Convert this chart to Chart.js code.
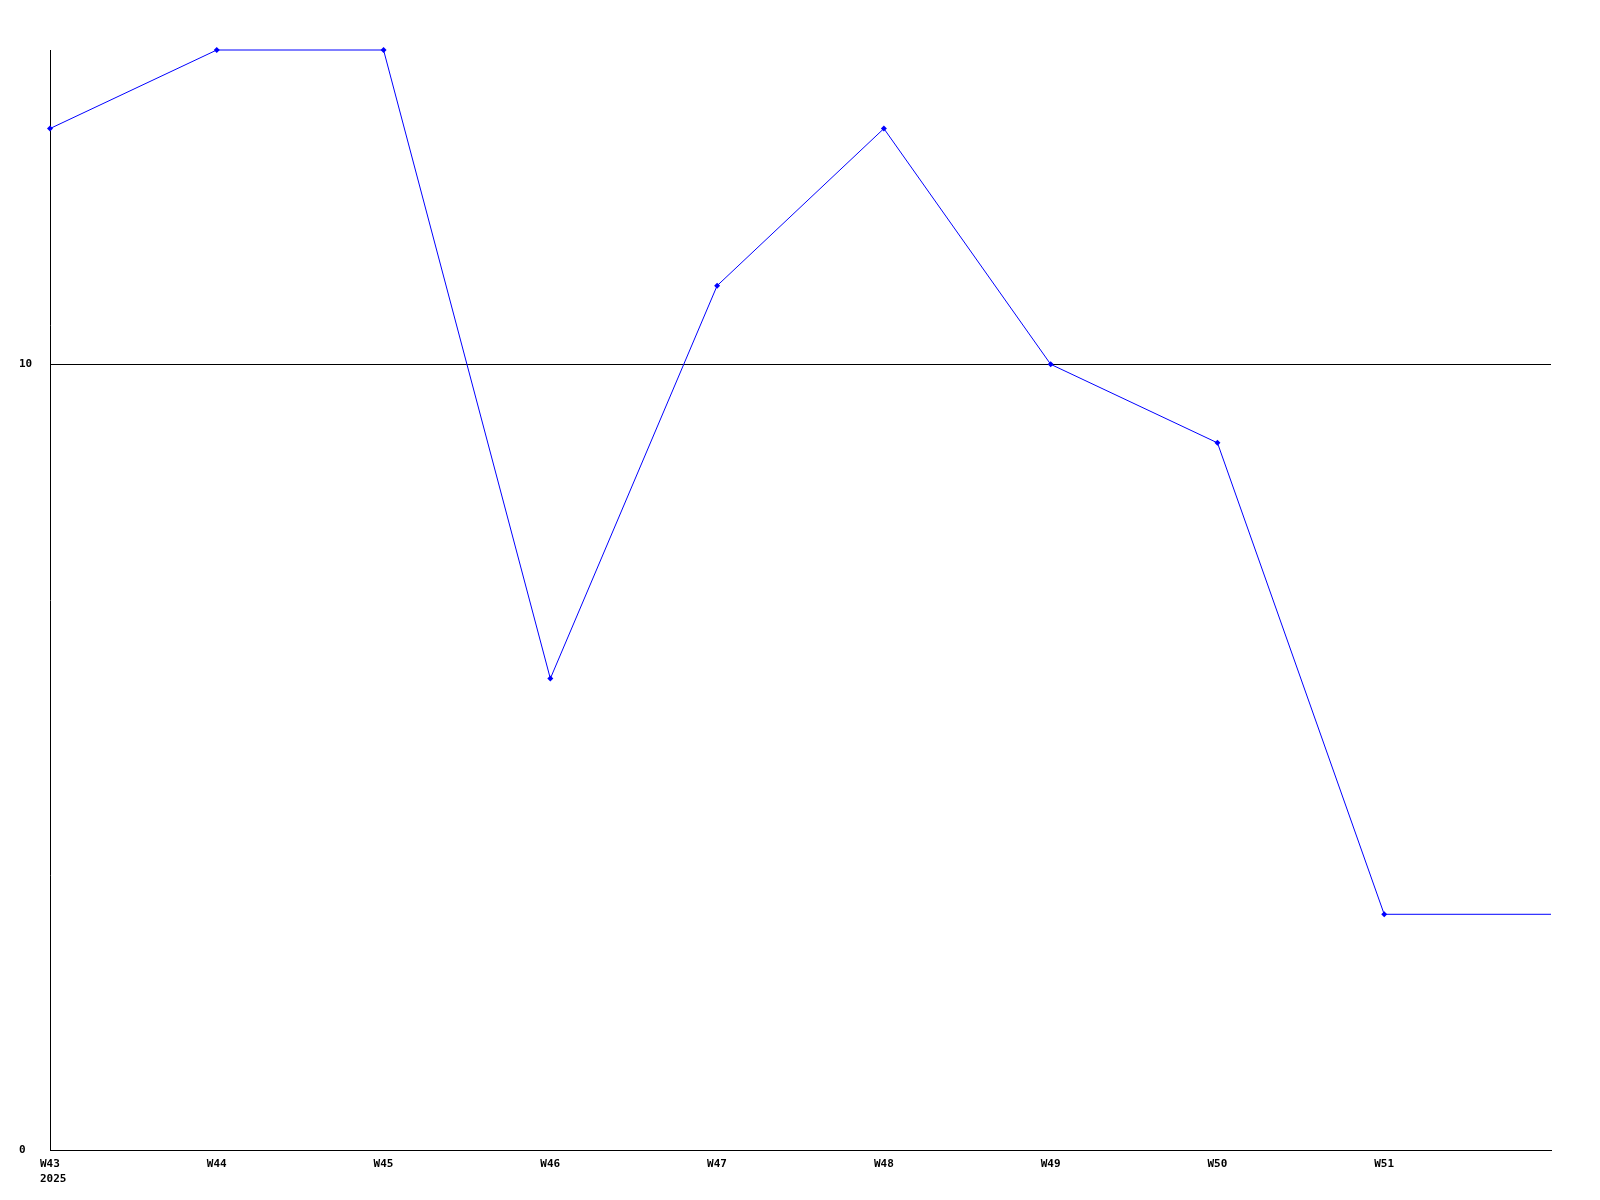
<!DOCTYPE html>
<html>
<head>
<meta charset="utf-8">
<script src="https://cdn.jsdelivr.net/npm/chart.js@4"></script>
<style>
  html, body { margin: 0; padding: 0; background: #fff; }
  canvas { display: block; }
</style>
</head>
<body>
<canvas id="chart" width="1600" height="1200"></canvas>
<script>
const weekLabels = ['W43', 'W44', 'W45', 'W46', 'W47', 'W48', 'W49', 'W50', 'W51', ''];
const yearLabel = '2025';
const weekValues = [13, 14, 14, 6, 11, 13, 10, 9, 3, 3];
const yTicks = [0, 10];

const font = { family: '"DejaVu Sans Mono", monospace', size: 11, weight: 'bold', lineHeight: 1.4 };

new Chart(document.getElementById('chart'), {
  type: 'line',
  data: {
    labels: weekLabels,
    datasets: [{
      data: weekValues,
      borderColor: '#0000ff',
      backgroundColor: '#0000ff',
      borderWidth: 1,
      tension: 0,
      clip: false,
      pointStyle: 'rectRot',
      pointRadius: weekValues.map((v, i) => (i === weekValues.length - 1 ? 0 : 3)),
      pointBorderWidth: 0,
      fill: false
    }]
  },
  options: {
    responsive: false,
    animation: false,
    devicePixelRatio: 1,
    layout: { padding: { left: 19, right: 49, top: 50, bottom: 0 } },
    plugins: { legend: { display: false }, tooltip: { enabled: false } },
    scales: {
      x: {
        offset: false,
        grid: { display: false },
        border: { display: true, color: '#000', width: 1 },
        ticks: {
          color: '#000',
          font,
          autoSkip: false,
          maxRotation: 0,
          align: 'start',
          labelOffset: -10,
          padding: -2,
          callback: (value, index) => (index === 0 ? [weekLabels[0], yearLabel] : weekLabels[index])
        },
        afterFit: (scale) => { scale.height = 50; }
      },
      y: {
        min: 0,
        max: 14,
        grid: { color: '#000', lineWidth: 1, drawTicks: false },
        border: { display: true, color: '#000', width: 1 },
        ticks: {
          color: '#000',
          font,
          crossAlign: 'far',
          padding: 0
        },
        afterBuildTicks: (scale) => { scale.ticks = yTicks.map((v) => ({ value: v })); },
        afterFit: (scale) => { scale.width = 31; }
      }
    }
  }
});
</script>
</body>
</html>
